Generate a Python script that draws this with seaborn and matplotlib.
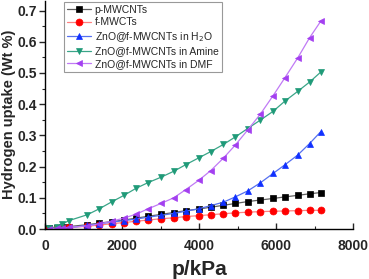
import numpy as np
import pandas as pd
import matplotlib
matplotlib.use("Agg")
import matplotlib.pyplot as plt
import seaborn as sns
from matplotlib.ticker import MultipleLocator

pressure = [100, 300, 450, 620, 1100, 1410, 1730, 2050, 2370, 2680, 3010, 3340,
            3650, 3990, 4300, 4630, 4940, 5260, 5590, 5920, 6230, 6560, 6870, 7160]

p_mwcnt = [0.002, 0.004, 0.006, 0.008, 0.014, 0.019, 0.024, 0.029, 0.035, 0.041, 0.047, 0.053,
           0.059, 0.064, 0.070, 0.076, 0.082, 0.088, 0.093, 0.098, 0.103, 0.108, 0.113, 0.117]
f_mwct = [0.001, 0.002, 0.004, 0.005, 0.009, 0.013, 0.017, 0.021, 0.025, 0.029, 0.033, 0.036,
          0.040, 0.043, 0.046, 0.049, 0.052, 0.054, 0.056, 0.057, 0.058, 0.059, 0.060, 0.060]
zno_h2o = [0.001, 0.002, 0.003, 0.004, 0.012, 0.017, 0.022, 0.027, 0.032, 0.038, 0.044, 0.050,
           0.057, 0.065, 0.075, 0.086, 0.103, 0.122, 0.148, 0.178, 0.206, 0.237, 0.274, 0.312]
zno_amine = [0.002, 0.008, 0.016, 0.027, 0.046, 0.065, 0.087, 0.108, 0.131, 0.149, 0.166, 0.185,
             0.206, 0.228, 0.248, 0.271, 0.295, 0.322, 0.349, 0.377, 0.410, 0.441, 0.471, 0.503]
zno_dmf = [0.001, 0.002, 0.003, 0.005, 0.010, 0.016, 0.025, 0.035, 0.048, 0.065, 0.082, 0.100,
           0.126, 0.156, 0.187, 0.227, 0.269, 0.317, 0.368, 0.427, 0.485, 0.548, 0.613, 0.666]

labels = ["p-MWCNTs", "f-MWCTs", "ZnO@f-MWCNTs in H$_2$O",
          "ZnO@f-MWCNTs in Amine", "ZnO@f-MWCNTs in DMF"]
series = [p_mwcnt, f_mwct, zno_h2o, zno_amine, zno_dmf]
colors = ["#000000", "#ff0000", "#1030ff", "#1f9a78", "#a33ff0"]
line_colors = ["#606060", "#ff8080", "#5570f0", "#3aa588", "#c07af5"]
markers = ["s", "o", "^", "v", "<"]

sns.set_style("ticks")
plt.rcParams["font.family"] = ["Liberation Sans", "DejaVu Sans"]

fig = plt.figure(figsize=(3.69, 2.79), dpi=100)
ax = fig.add_axes([0.122, 0.179, 0.835, 0.819])

for lab, vals, c, lc, m in zip(labels, series, colors, line_colors, markers):
    df = pd.DataFrame({"p": pressure, "h": vals})
    sns.lineplot(data=df, x="p", y="h", ax=ax, color=lc, lw=0.9, marker=m,
                 markersize=5, markerfacecolor=c, markeredgecolor=c,
                 markeredgewidth=0.5, label=lab)

ax.set_xlim(0, 8000)
ax.set_ylim(0, 0.732)
ax.xaxis.set_major_locator(MultipleLocator(2000))
ax.xaxis.set_minor_locator(MultipleLocator(1000))
ax.yaxis.set_major_locator(MultipleLocator(0.1))
ax.yaxis.set_minor_locator(MultipleLocator(0.05))
ax.tick_params(axis="x", which="both", direction="in", labelsize=10, pad=7)
ax.tick_params(axis="y", which="both", direction="out", labelsize=10, pad=2)
ax.tick_params(which="major", length=4, width=1)
ax.tick_params(which="minor", length=2.5, width=0.8)
for t in ax.get_xticklabels() + ax.get_yticklabels():
    t.set_fontweight("bold")
for s in ["top", "right"]:
    ax.spines[s].set_visible(False)
for s in ["left", "bottom"]:
    ax.spines[s].set_linewidth(1)
    ax.spines[s].set_color("black")

ax.set_xlabel("p/kPa", fontsize=15, fontweight="bold", labelpad=5)
ax.set_ylabel("Hydrogen uptake (Wt %)", fontsize=10.5, fontweight="bold", labelpad=1)

leg = ax.legend(loc="upper left", bbox_to_anchor=(0.06, 0.995), fontsize=7.5,
                frameon=True, fancybox=False, edgecolor="#808080",
                handlelength=2.3, handletextpad=0.4, borderpad=0.3,
                labelspacing=0.25, borderaxespad=0.0)
leg.get_frame().set_linewidth(0.8)

fig.savefig("out.png", dpi=100)
